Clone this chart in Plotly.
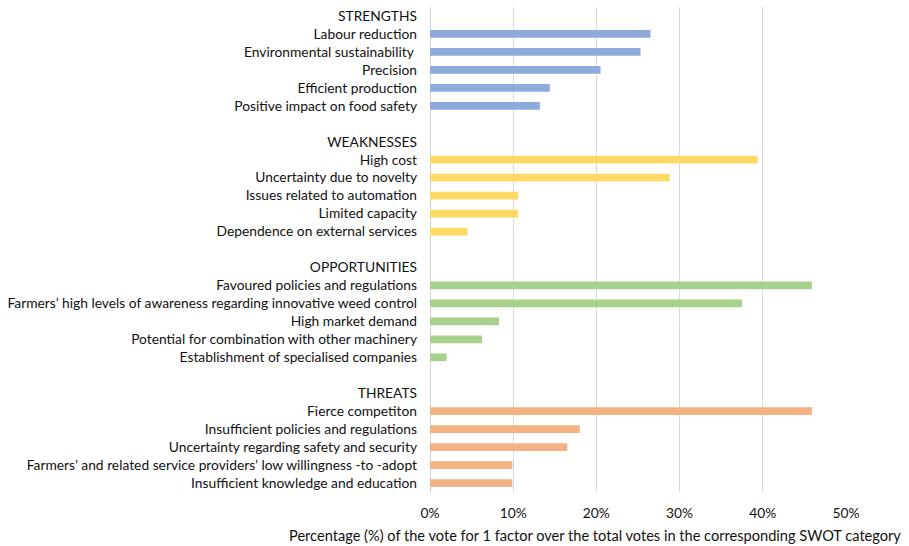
import plotly.graph_objects as go

groups = ["STRENGTHS", "WEAKNESSES", "OPPORTUNITIES", "THREATS"]
strengths = ["Labour reduction", "Environmental sustainability ", "Precision",
             "Efficient production", "Positive impact on food safety"]
strengths_val = [26.5, 25.3, 20.5, 14.4, 13.2]
weaknesses = ["High cost", "Uncertainty due to novelty", "Issues related to automation",
              "Limited capacity", "Dependence on external services"]
weaknesses_val = [39.4, 28.8, 10.6, 10.6, 4.5]
opportunities = ["Favoured policies and regulations",
                 "Farmers\u2019 high levels of awareness regarding innovative weed control",
                 "High market demand", "Potential for combination with other machinery",
                 "Establishment of specialised companies"]
opportunities_val = [45.9, 37.5, 8.3, 6.25, 2.0]
threats = ["Fierce competiton", "Insufficient policies and regulations",
           "Uncertainty regarding safety and security",
           "Farmers\u2019 and related service providers\u2019 low willingness -to -adopt",
           "Insufficient knowledge and education"]
threats_val = [45.9, 18.0, 16.5, 9.9, 9.9]
colors = ["#8FAADC", "#FFD966", "#A9D18E", "#F4B183"]
x_ticks = [0, 10, 20, 30, 40, 50]
x_title = "Percentage (%) of the vote for 1 factor over the total votes in the corresponding SWOT category"

items = [strengths, weaknesses, opportunities, threats]
vals = [strengths_val, weaknesses_val, opportunities_val, threats_val]

fig = go.Figure()
tickvals, ticktext = [], []
pos = 0
for g, labels, v, c in zip(groups, items, vals, colors):
    tickvals.append(pos)
    ticktext.append(g)
    ys = list(range(pos + 1, pos + 1 + len(labels)))
    tickvals += ys
    ticktext += labels
    fig.add_trace(go.Bar(x=v, y=ys, orientation="h", marker=dict(color=c, line=dict(width=0)),
                         width=0.43, showlegend=False, hoverinfo="x"))
    pos += len(labels) + 2

font = "Lato, Open Sans, sans-serif"
fs = 13.8
fig.update_layout(
    width=909, height=546,
    margin=dict(l=430, r=63, t=7, b=54),
    paper_bgcolor="white", plot_bgcolor="white",
    font=dict(family=font, size=fs, color="#111111"),
)
fig.update_yaxes(range=[pos - 1.5, -0.5], tickvals=tickvals, ticktext=ticktext,
                 showgrid=False, zeroline=False, showline=False, ticks="",
                 ticklabelstandoff=12, tickfont=dict(size=fs, color="#111111"))
fig.update_xaxes(range=[0, 50], tickvals=x_ticks, ticktext=[f"{t}%" for t in x_ticks],
                 showgrid=True, gridcolor="#D9D9D9", gridwidth=1.3,
                 zeroline=True, zerolinecolor="#D0D0D0", zerolinewidth=1.3,
                 showline=False, ticks="", ticklabelstandoff=11,
                 tickfont=dict(size=fs, color="#111111"))
fig.add_annotation(text=x_title, xref="paper", yref="paper",
                   x=(595 - 430) / 416, y=(492 - 535) / 485, xanchor="center", yanchor="middle",
                   showarrow=False, font=dict(size=14.6, color="#111111", family=font))
fig.write_html("out.html")
